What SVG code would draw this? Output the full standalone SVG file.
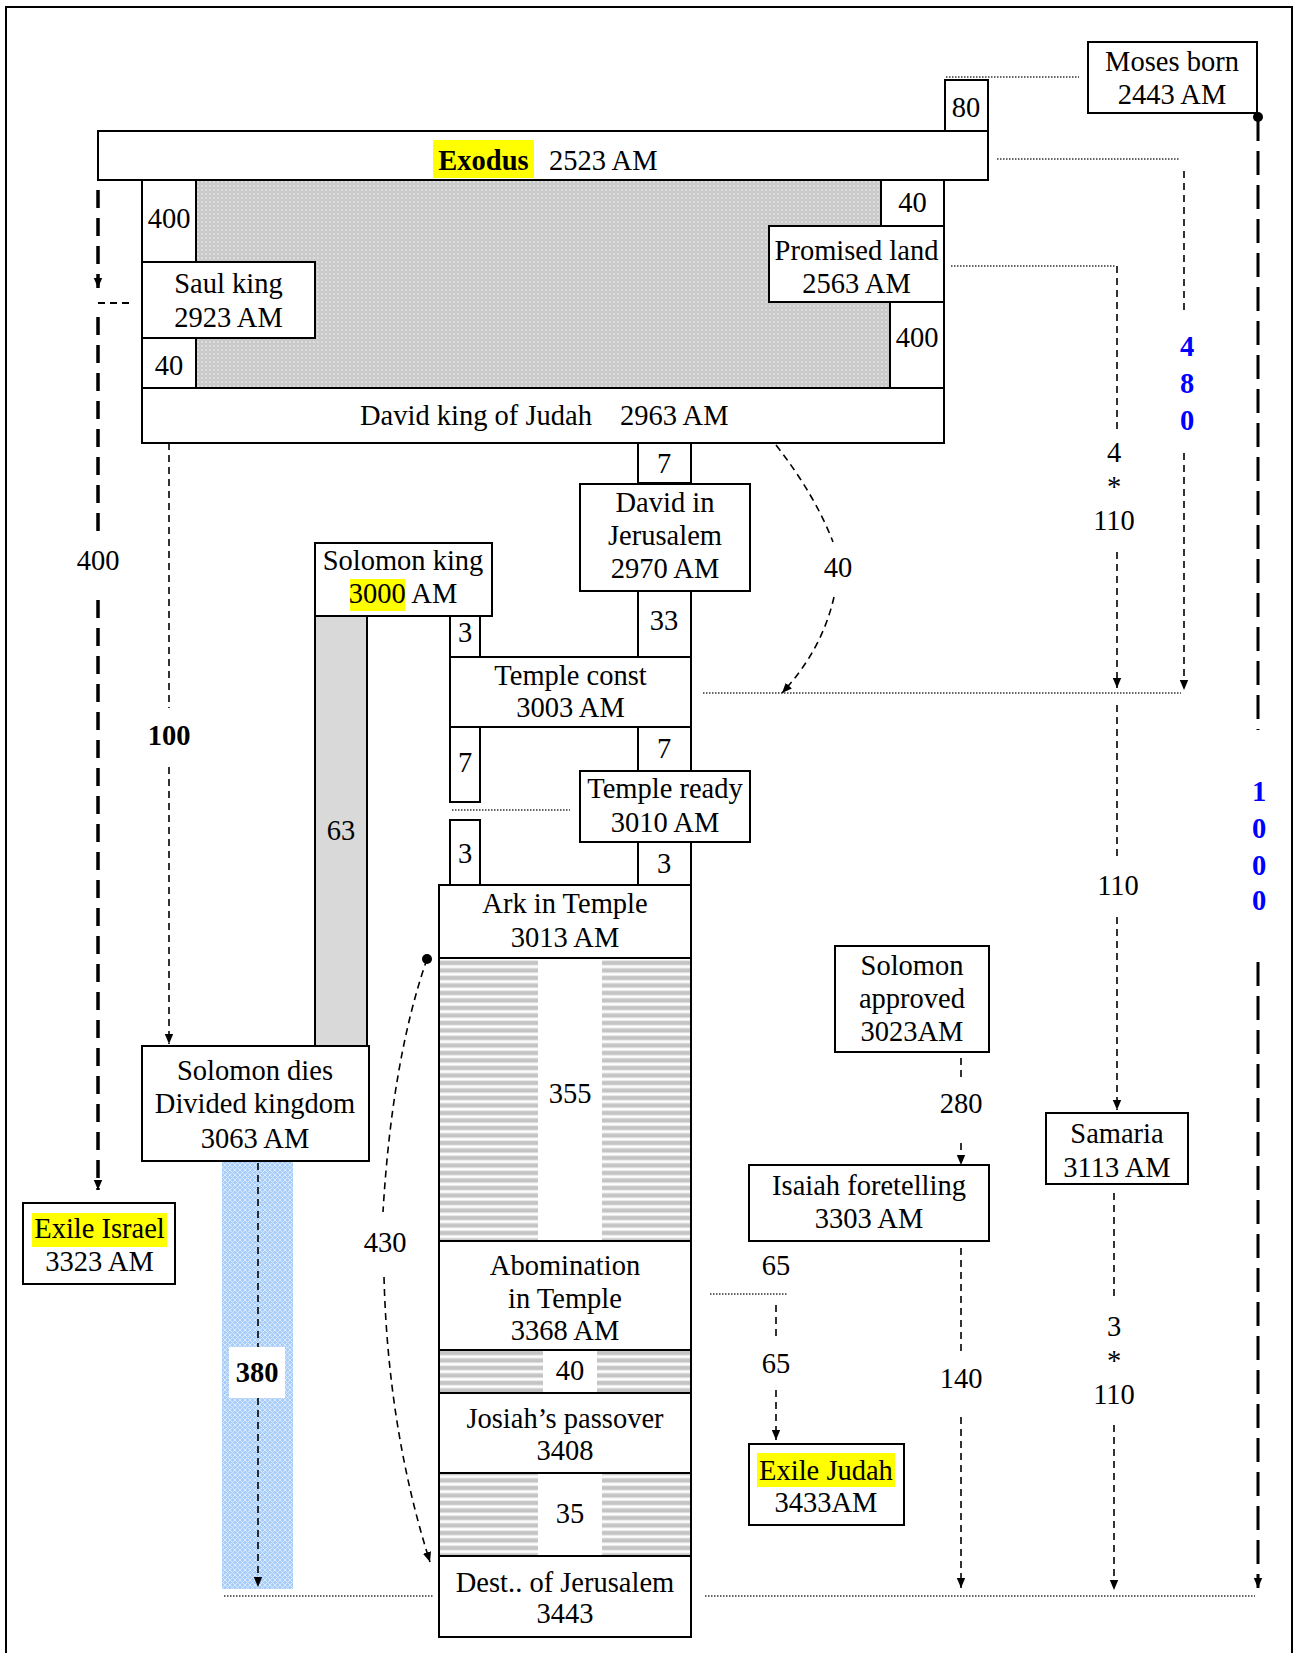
<svg xmlns="http://www.w3.org/2000/svg" width="1294" height="1653" viewBox="0 0 1294 1653">
<style>
.box{fill:#fff;stroke:#000;stroke-width:2}
.t{font-family:"Liberation Serif","Times New Roman",serif;font-size:28.5px;text-anchor:middle;fill:#000}
.s{text-anchor:start}
.b{font-weight:bold}
.blue{fill:#0000ff;font-weight:bold}
.hl{fill:#ffff00}
.dot{stroke:#333;stroke-width:1.3;stroke-dasharray:1.5 1.5;fill:none}
.dash{stroke:#000;stroke-width:1.6;stroke-dasharray:7 5;fill:none}
.thick{stroke:#000;stroke-width:3.5;stroke-dasharray:18 10;fill:none}
.long{stroke:#000;stroke-width:3;stroke-dasharray:24 10;fill:none}
</style>
<defs>
<marker id="ah" viewBox="0 0 10 10" refX="10" refY="5" markerWidth="10" markerHeight="10" markerUnits="userSpaceOnUse" orient="auto"><path d="M0,0.8 L10,5 L0,9.2 z" fill="#000"/></marker>
<pattern id="gray" width="4" height="4" patternUnits="userSpaceOnUse"><rect width="4" height="4" fill="#c9c9c9"/><circle cx="2" cy="2" r="1" fill="#e4e4e4"/><circle cx="0" cy="0" r="0.7" fill="#dadada"/><circle cx="4" cy="4" r="0.7" fill="#dadada"/></pattern>
<pattern id="blue" width="5" height="5" patternUnits="userSpaceOnUse"><rect width="5" height="5" fill="#a9cdf9"/><path d="M0,0 L5,5 M5,0 L0,5" stroke="#d9eaff" stroke-width="1"/></pattern>
<pattern id="stripe" width="8" height="7.5" patternUnits="userSpaceOnUse"><rect width="8" height="7.5" fill="#fff"/><rect y="1" width="8" height="4" fill="#c4c4c4"/><rect y="0.3" width="8" height="0.8" fill="#e0e0e0"/><rect y="5" width="8" height="0.8" fill="#e0e0e0"/></pattern>
</defs>

<rect x="6" y="7" width="1286" height="1652" fill="#fff" stroke="#000" stroke-width="2"/>

<g id="connectors">
<line class="dot" x1="946" y1="77" x2="1079" y2="77"/>
<line class="dot" x1="997" y1="159" x2="1179" y2="159"/>
<line class="dot" x1="951" y1="266" x2="1116" y2="266"/>
<line class="dot" x1="703" y1="693" x2="1181" y2="693"/>
<line class="dot" x1="452" y1="810" x2="570" y2="810"/>
<line class="dot" x1="710" y1="1294" x2="788" y2="1294"/>
<line class="dot" x1="224" y1="1596" x2="433" y2="1596"/>
<line class="dot" x1="705" y1="1596" x2="1255" y2="1596"/>

<line class="thick" x1="98" y1="190" x2="98" y2="288" marker-end="url(#ah)"/>
<line class="dash" x1="98" y1="303" x2="134" y2="303" style="stroke-width:1.8"/>
<line class="thick" x1="98" y1="317" x2="98" y2="532"/>
<text class="t" x="98" y="570">400</text>
<line class="thick" x1="98" y1="600" x2="98" y2="1190" marker-end="url(#ah)"/>

<line class="dash" x1="1184" y1="171" x2="1184" y2="313"/>
<text class="t blue" x="1187" y="356">4</text>
<text class="t blue" x="1187" y="393">8</text>
<text class="t blue" x="1187" y="430">0</text>
<line class="dash" x1="1184" y1="453" x2="1184" y2="690" marker-end="url(#ah)"/>

<circle cx="1258" cy="117" r="5" fill="#000"/>
<line class="long" x1="1258" y1="117" x2="1258" y2="730"/>
<text class="t blue" x="1259" y="801">1</text>
<text class="t blue" x="1259" y="838">0</text>
<text class="t blue" x="1259" y="875">0</text>
<text class="t blue" x="1259" y="910">0</text>
<line class="long" x1="1258" y1="962" x2="1258" y2="1588" marker-end="url(#ah)"/>

<line class="dash" x1="1117" y1="266" x2="1117" y2="430"/>
<text class="t" x="1114" y="462">4</text>
<text class="t" x="1114" y="496">*</text>
<text class="t" x="1114" y="530">110</text>
<line class="dash" x1="1117" y1="552" x2="1117" y2="688" marker-end="url(#ah)"/>
<line class="dash" x1="1117" y1="705" x2="1117" y2="860"/>
<text class="t" x="1118" y="895">110</text>
<line class="dash" x1="1117" y1="917" x2="1117" y2="1110" marker-end="url(#ah)"/>

<line class="dash" x1="1114" y1="1193" x2="1114" y2="1300"/>
<text class="t" x="1114" y="1336">3</text>
<text class="t" x="1114" y="1370">*</text>
<text class="t" x="1114" y="1404">110</text>
<line class="dash" x1="1114" y1="1425" x2="1114" y2="1590" marker-end="url(#ah)"/>

<line class="dash" x1="961" y1="1058" x2="961" y2="1080"/>
<text class="t" x="961" y="1113">280</text>
<line class="dash" x1="961" y1="1143" x2="961" y2="1165" marker-end="url(#ah)"/>

<line class="dash" x1="961" y1="1248" x2="961" y2="1352"/>
<text class="t" x="961" y="1388">140</text>
<line class="dash" x1="961" y1="1417" x2="961" y2="1588" marker-end="url(#ah)"/>

<text class="t" x="776" y="1275">65</text>
<line class="dash" x1="776" y1="1305" x2="776" y2="1340"/>
<text class="t" x="776" y="1373">65</text>
<line class="dash" x1="776" y1="1390" x2="776" y2="1440" marker-end="url(#ah)"/>

<line class="dash" x1="169" y1="443" x2="169" y2="708"/>
<text class="t b" x="169" y="745">100</text>
<line class="dash" x1="169" y1="767" x2="169" y2="1044" marker-end="url(#ah)"/>

<path class="dash" d="M776,445 Q815,495 833,542"/>
<text class="t" x="838" y="577">40</text>
<path class="dash" d="M834,597 Q822,650 782,693" marker-end="url(#ah)"/>

<circle cx="427" cy="959" r="5" fill="#000"/>
<path class="dash" d="M427,959 Q392,1060 383,1212"/>
<text class="t" x="385" y="1252">430</text>
<path class="dash" d="M384,1277 Q388,1430 430,1562" marker-end="url(#ah)"/>
</g>

<rect x="196" y="180" width="748" height="208" fill="url(#gray)"/>

<g id="moses"><rect class="box" x="1088" y="42" width="169" height="71"/><text class="t" x="1172" y="71">Moses born</text><text class="t" x="1172" y="104">2443 AM</text></g>
<g id="n80"><rect class="box" x="945" y="80" width="43" height="51"/><text class="t" x="966" y="117">80</text></g>
<g id="exodus"><rect class="box" x="98" y="131" width="890" height="49"/><rect class="hl" x="433" y="140" width="101" height="38"/><text class="t b" x="483.5" y="170">Exodus</text><text class="t s" x="549" y="170">2523 AM</text></g>
<g id="n400l"><rect class="box" x="142" y="180" width="54" height="82"/><text class="t" x="169" y="228">400</text></g>
<g id="saul"><rect class="box" x="142" y="262" width="173" height="76"/><text class="t" x="228.5" y="293">Saul king</text><text class="t" x="228.5" y="327">2923 AM</text></g>
<g id="n40l"><rect class="box" x="142" y="338" width="54" height="50"/><text class="t" x="169" y="375">40</text></g>
<g id="n40r"><rect class="box" x="881" y="180" width="63" height="46"/><text class="t" x="912.5" y="212">40</text></g>
<g id="promised"><rect class="box" x="769" y="226" width="175" height="76"/><text class="t" x="856.5" y="260">Promised land</text><text class="t" x="856.5" y="293">2563 AM</text></g>
<g id="n400r"><rect class="box" x="890" y="302" width="54" height="87"/><text class="t" x="917" y="347">400</text></g>
<g id="david"><rect class="box" x="142" y="388" width="802" height="55"/><text class="t s" x="360" y="425">David king of Judah</text><text class="t s" x="620" y="425">2963 AM</text></g>
<g id="n7a"><rect class="box" x="638" y="443" width="53" height="40"/><text class="t" x="664" y="473">7</text></g>
<g id="davidjer"><rect class="box" x="580" y="484" width="170" height="107"/><text class="t" x="665" y="512">David in</text><text class="t" x="665" y="545">Jerusalem</text><text class="t" x="665" y="578">2970 AM</text></g>
<g id="n33"><rect class="box" x="638" y="591" width="53" height="66"/><text class="t" x="664" y="630">33</text></g>
<g id="solking"><rect class="box" x="315" y="543" width="177" height="73"/><rect class="hl" x="350" y="579" width="55" height="32"/><text class="t" x="403" y="570">Solomon king</text><text class="t" x="403" y="603">3000 AM</text></g>
<g id="n63"><rect x="315" y="616" width="52" height="430" fill="#d9d9d9" stroke="#000" stroke-width="2"/><text class="t" x="341" y="840">63</text></g>
<g id="n3a"><rect class="box" x="450" y="616" width="30" height="41"/><text class="t" x="465" y="642">3</text></g>
<g id="templeconst"><rect class="box" x="450" y="657" width="241" height="70"/><text class="t" x="570.5" y="685">Temple const</text><text class="t" x="570.5" y="717">3003 AM</text></g>
<g id="n7b"><rect class="box" x="450" y="727" width="30" height="75"/><text class="t" x="465" y="772">7</text></g>
<g id="n7c"><rect class="box" x="638" y="727" width="53" height="44"/><text class="t" x="664" y="758">7</text></g>
<g id="templeready"><rect class="box" x="580" y="771" width="170" height="71"/><text class="t" x="665" y="798">Temple ready</text><text class="t" x="665" y="832">3010 AM</text></g>
<g id="n3b"><rect class="box" x="450" y="820" width="30" height="65"/><text class="t" x="465" y="863">3</text></g>
<g id="n3c"><rect class="box" x="638" y="842" width="53" height="43"/><text class="t" x="664" y="873">3</text></g>
<g id="ark"><rect class="box" x="439" y="885" width="252" height="73"/><text class="t" x="565" y="913">Ark in Temple</text><text class="t" x="565" y="947">3013 AM</text></g>
<g id="n355"><rect class="box" x="439" y="958" width="252" height="283"/><rect x="440" y="959" width="98" height="281" fill="url(#stripe)"/><rect x="602" y="959" width="88" height="281" fill="url(#stripe)"/><text class="t" x="570" y="1103">355</text></g>
<g id="abom"><rect class="box" x="439" y="1241" width="252" height="109"/><text class="t" x="565" y="1275">Abomination</text><text class="t" x="565" y="1308">in Temple</text><text class="t" x="565" y="1340">3368 AM</text></g>
<g id="n40m"><rect class="box" x="439" y="1350" width="252" height="43"/><rect x="440" y="1351" width="103" height="41" fill="url(#stripe)"/><rect x="597" y="1351" width="93" height="41" fill="url(#stripe)"/><text class="t" x="570" y="1380">40</text></g>
<g id="josiah"><rect class="box" x="439" y="1393" width="252" height="80"/><text class="t" x="565" y="1428">Josiah’s passover</text><text class="t" x="565" y="1460">3408</text></g>
<g id="n35"><rect class="box" x="439" y="1473" width="252" height="83"/><rect x="440" y="1474" width="98" height="81" fill="url(#stripe)"/><rect x="602" y="1474" width="88" height="81" fill="url(#stripe)"/><text class="t" x="570" y="1523">35</text></g>
<g id="dest"><rect class="box" x="439" y="1556" width="252" height="81"/><text class="t" x="565" y="1592">Dest.. of Jerusalem</text><text class="t" x="565" y="1623">3443</text></g>
<g id="soldies"><rect class="box" x="142" y="1046" width="227" height="115"/><text class="t" x="255" y="1080">Solomon dies</text><text class="t" x="255" y="1113">Divided kingdom</text><text class="t" x="255" y="1148">3063 AM</text></g>
<g id="n380"><rect x="222" y="1162" width="71" height="427" fill="url(#blue)"/><line class="dash" x1="258" y1="1163" x2="258" y2="1347"/><line class="dash" x1="258" y1="1398" x2="258" y2="1587" marker-end="url(#ah)"/><rect x="229" y="1347" width="56" height="51" fill="#fff"/><text class="t b" x="257" y="1382">380</text></g>
<g id="exileisrael"><rect class="box" x="23" y="1203" width="152" height="81"/><rect class="hl" x="32" y="1213" width="135" height="34"/><text class="t" x="99.5" y="1238">Exile Israel</text><text class="t" x="99.5" y="1271">3323 AM</text></g>
<g id="solapproved"><rect class="box" x="835" y="946" width="154" height="106"/><text class="t" x="912" y="975">Solomon</text><text class="t" x="912" y="1008">approved</text><text class="t" x="912" y="1041">3023AM</text></g>
<g id="isaiah"><rect class="box" x="749" y="1165" width="240" height="76"/><text class="t" x="869" y="1195">Isaiah foretelling</text><text class="t" x="869" y="1228">3303 AM</text></g>
<g id="samaria"><rect class="box" x="1046" y="1113" width="142" height="71"/><text class="t" x="1117" y="1143">Samaria</text><text class="t" x="1117" y="1177">3113 AM</text></g>
<g id="exilejudah"><rect class="box" x="749" y="1444" width="155" height="81"/><rect class="hl" x="757" y="1453" width="138" height="34"/><text class="t" x="826" y="1480">Exile Judah</text><text class="t" x="826" y="1512">3433AM</text></g>
</svg>
